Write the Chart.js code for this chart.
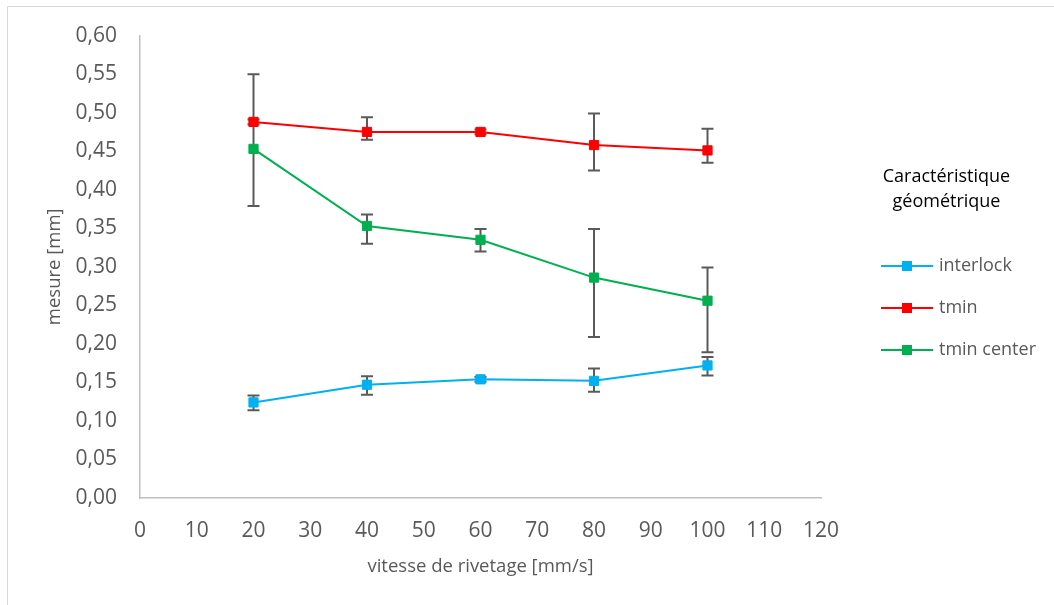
<!DOCTYPE html>
<html>
<head>
<meta charset="utf-8">
<script src="https://cdn.jsdelivr.net/npm/chart.js@4"></script>
<style>
  html, body { margin: 0; padding: 0; background: #fff; }
  #wrap { position: relative; width: 1054px; height: 605px; }
</style>
</head>
<body>
<div id="wrap"><canvas id="c" width="1054" height="605"></canvas></div>
<script>
// ---- data ----
const speeds = [20, 40, 60, 80, 100];
const interlock = [0.124, 0.147, 0.154, 0.152, 0.172];
const interlockHigh = [0.133, 0.158, 0.157, 0.168, 0.183];
const interlockLow = [0.114, 0.134, 0.151, 0.138, 0.159];
const tmin = [0.488, 0.475, 0.475, 0.458, 0.451];
const tminHigh = [0.491, 0.494, 0.478, 0.499, 0.479];
const tminLow = [0.485, 0.465, 0.472, 0.425, 0.435];
const tminCenter = [0.453, 0.353, 0.335, 0.286, 0.256];
const tminCenterHigh = [0.550, 0.368, 0.349, 0.349, 0.299];
const tminCenterLow = [0.379, 0.330, 0.320, 0.209, 0.189];
const seriesNames = ['interlock', 'tmin', 'tmin center'];
const legendTitle = ['Caractéristique', 'géométrique'];
const xTitle = 'vitesse de rivetage [mm/s]';
const yTitle = 'mesure [mm]';
const xMin = 0, xMax = 120, xStep = 10;
const yMin = 0, yMax = 0.60, yStep = 0.05;

const colors = ['#00B0F0', '#FF0000', '#00B050'];
const FONT = '"Open Sans", sans-serif';

function pts(xs, ys) { return xs.map((x, i) => ({ x: x, y: ys[i] })); }

const seriesVals = [interlock, tmin, tminCenter];
const seriesHigh = [interlockHigh, tminHigh, tminCenterHigh];
const seriesLow = [interlockLow, tminLow, tminCenterLow];

const datasets = seriesVals.map((vals, i) => ({
  label: seriesNames[i],
  data: pts(speeds, vals),
  errHigh: seriesHigh[i],
  errLow: seriesLow[i],
  borderColor: colors[i],
  backgroundColor: colors[i],
  borderWidth: 2,
  pointStyle: 'rect',
  pointRadius: 6.5,
  pointBorderWidth: 1,
  pointBorderColor: colors[i],
  pointBackgroundColor: colors[i],
  tension: 0,
  fill: false
}));

const errorBars = {
  id: 'errorBars',
  beforeDatasetsDraw(chart) {
    const ctx = chart.ctx;
    const xs = chart.scales.x, ys = chart.scales.y;
    ctx.save();
    ctx.strokeStyle = '#5A5A5A';
    ctx.lineWidth = 2;
    chart.data.datasets.forEach(ds => {
      ds.data.forEach((p, i) => {
        const px = xs.getPixelForValue(p.x);
        const top = ys.getPixelForValue(ds.errHigh[i]);
        const bot = ys.getPixelForValue(ds.errLow[i]);
        ctx.beginPath();
        ctx.moveTo(px, top); ctx.lineTo(px, bot);
        ctx.moveTo(px - 6, top); ctx.lineTo(px + 6, top);
        ctx.moveTo(px - 6, bot); ctx.lineTo(px + 6, bot);
        ctx.stroke();
      });
    });
    ctx.restore();
  }
};

const frameAndLegend = {
  id: 'frameAndLegend',
  beforeDraw(chart) {
    const ctx = chart.ctx;
    ctx.save();
    ctx.fillStyle = '#fff';
    ctx.fillRect(0, 0, chart.width, chart.height);
    ctx.strokeStyle = '#D9D9D9';
    ctx.lineWidth = 1;
    ctx.strokeRect(7.5, 6.5, 1200, 800);
    ctx.restore();
  },
  afterDraw(chart) {
    const ctx = chart.ctx;
    ctx.save();
    ctx.fillStyle = '#000';
    ctx.font = '18px ' + FONT;
    ctx.textAlign = 'center';
    ctx.textBaseline = 'middle';
    ctx.fillText(legendTitle[0], 946.5, 177);
    ctx.fillText(legendTitle[1], 946.5, 202);
    const ys = [266, 308, 350];
    chart.data.datasets.forEach((ds, i) => {
      const y = ys[i];
      ctx.strokeStyle = ds.borderColor;
      ctx.lineWidth = 2;
      ctx.beginPath();
      ctx.moveTo(881, y); ctx.lineTo(933, y);
      ctx.stroke();
      ctx.fillStyle = ds.backgroundColor;
      ctx.fillRect(902, y - 5, 10, 10);
      ctx.fillStyle = '#595959';
      ctx.font = '18px ' + FONT;
      ctx.textAlign = 'left';
      ctx.fillText(ds.label, 939, y);
    });
    ctx.restore();
  }
};

new Chart(document.getElementById('c'), {
  type: 'line',
  data: { datasets: datasets },
  options: {
    responsive: false,
    animation: false,
    devicePixelRatio: 1,
    layout: { padding: { top: 34, right: 233, bottom: 0, left: 0 } },
    plugins: { legend: { display: false }, tooltip: { enabled: false } },
    scales: {
      x: {
        type: 'linear',
        min: xMin, max: xMax,
        grid: { display: false, drawTicks: false },
        border: { display: true, color: '#BFBFBF', width: 1.5 },
        ticks: { stepSize: xStep, padding: 20, color: '#595959', font: { family: FONT, size: 21 }, maxRotation: 0 },
        title: { display: true, text: xTitle, color: '#595959', font: { family: FONT, size: 18.5 }, padding: { top: 0, bottom: 27 } },
        afterFit(scale) { scale.height = 107; }
      },
      y: {
        type: 'linear',
        min: yMin, max: yMax,
        grid: { display: false, drawTicks: false },
        border: { display: true, color: '#BFBFBF', width: 1.5 },
        ticks: {
          stepSize: yStep, padding: 23, color: '#595959', font: { family: FONT, size: 21 },
          callback: v => v.toFixed(2).replace('.', ',')
        },
        title: { display: true, text: yTitle, color: '#595959', font: { family: FONT, size: 18.5 }, padding: { top: 44, bottom: 0 } },
        afterFit(scale) { scale.width = 140; }
      }
    }
  },
  plugins: [errorBars, frameAndLegend]
});
</script>
</body>
</html>
